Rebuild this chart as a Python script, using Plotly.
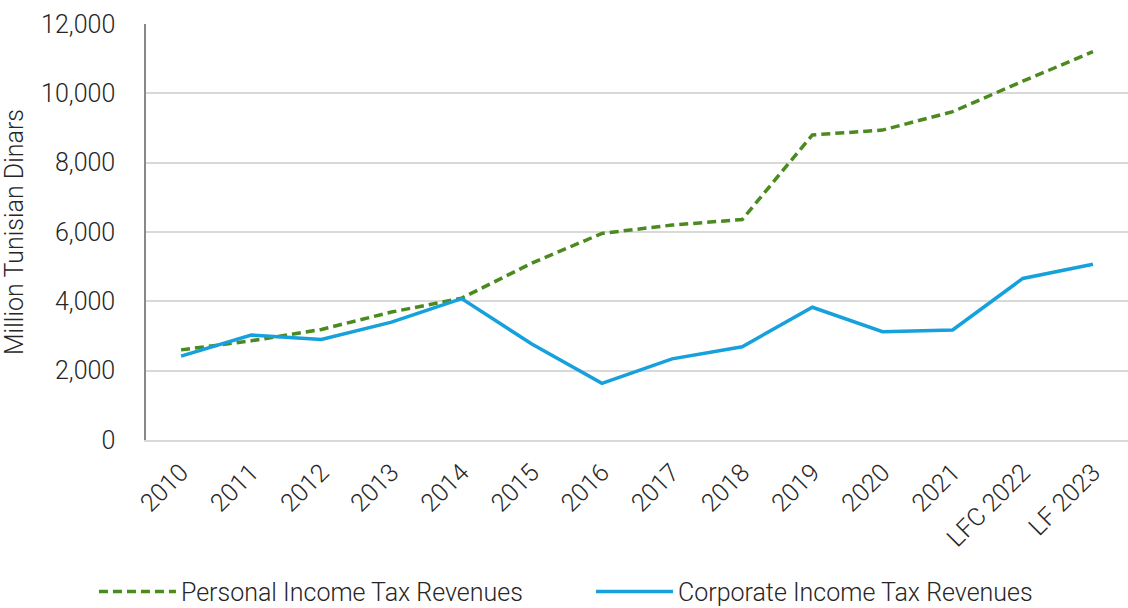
import plotly.graph_objects as go

categories = ["2010", "2011", "2012", "2013", "2014", "2015", "2016", "2017",
              "2018", "2019", "2020", "2021", "LFC 2022", "LF 2023"]
personal_income_tax = [2600, 2860, 3190, 3690, 4090, 5100, 5960, 6200,
                       6360, 8800, 8940, 9470, 10350, 11200]
corporate_income_tax = [2420, 3030, 2900, 3400, 4080, 2770, 1635, 2340,
                        2690, 3830, 3125, 3175, 4660, 5070]
y_ticks = [0, 2000, 4000, 6000, 8000, 10000, 12000]
y_tick_labels = ["0", "2,000", "4,000", "6,000", "8,000", "10,000", "12,000"]

GREEN = "#4b8a1f"
BLUE = "#16a0dc"
FONT = dict(family="Roboto, Liberation Sans Narrow, sans-serif", size=25, color="#262626", weight=300)

fig = go.Figure()
fig.add_trace(go.Scatter(
    x=categories, y=personal_income_tax, mode="lines",
    name="Personal Income Tax Revenues",
    line=dict(color=GREEN, width=3.5, dash="9px,5px"),
))
fig.add_trace(go.Scatter(
    x=categories, y=corporate_income_tax, mode="lines",
    name="Corporate Income Tax Revenues",
    line=dict(color=BLUE, width=3.5),
))

fig.update_layout(
    width=1128, height=608,
    margin=dict(l=146, r=0, t=24, b=168, autoexpand=False),
    paper_bgcolor="white", plot_bgcolor="white",
    font=FONT,
    showlegend=True,
    legend=dict(
        orientation="h", xref="paper", yref="paper",
        x=-0.053, xanchor="left", y=-0.365, yanchor="middle",
        font=FONT, itemwidth=77, entrywidth=405, entrywidthmode="pixels",
        traceorder="normal", borderwidth=0,
    ),
)
fig.update_xaxes(
    type="category", range=[-0.5, 13.5], tickangle=-45, showgrid=False,
    showline=True, linecolor="#d9d9d9", linewidth=1.5,
    ticks="", tickfont=FONT, ticklabelstandoff=6, automargin=False,
)
fig.update_yaxes(
    range=[0, 12000], tickvals=y_ticks, ticktext=y_tick_labels,
    showgrid=True, gridcolor="#d9d9d9", gridwidth=1.5,
    showline=True, linecolor="#898989", linewidth=1.5,
    zeroline=False, ticks="", tickfont=FONT, ticklabelstandoff=24,
    automargin=False,
    title=dict(text="Million Tunisian Dinars", font=FONT, standoff=10),
)

fig.write_html(
    "out.html",
    config={"displayModeBar": False},
    post_script="document.body.style.margin='0';document.body.style.overflow='hidden';",
)
